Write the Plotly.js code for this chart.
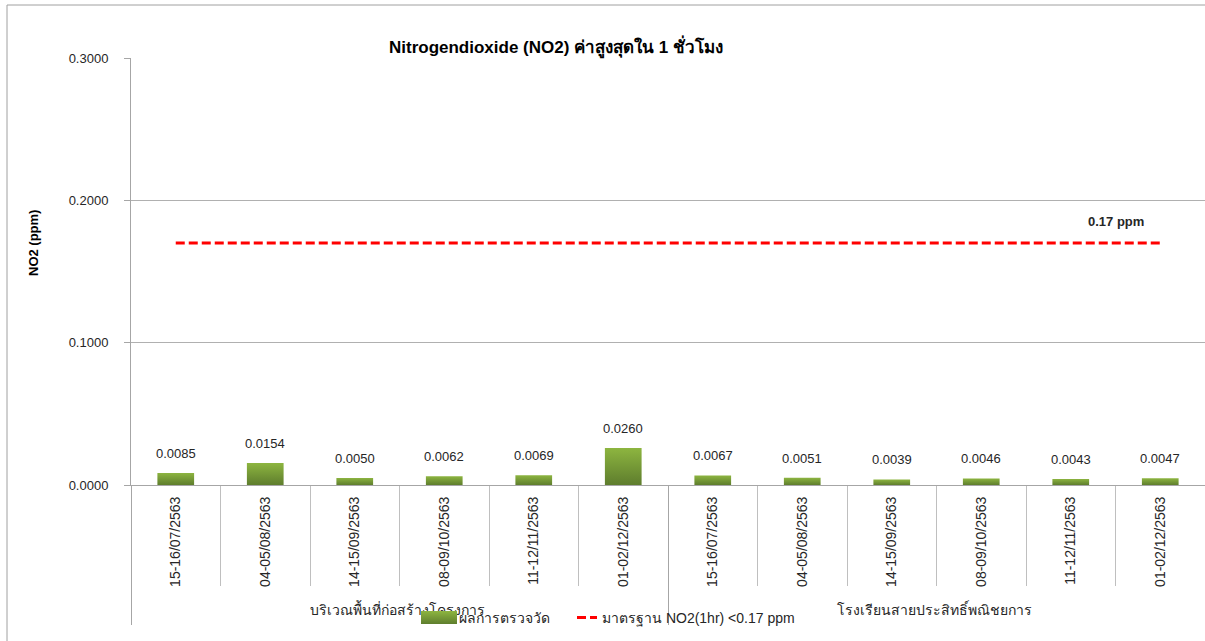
<!DOCTYPE html>
<html>
<head>
<meta charset="utf-8">
<script src="https://cdn.plot.ly/plotly-3.0.1.min.js"></script>
<style>
html,body{margin:0;padding:0;background:#fff;}
#chart{width:1205px;height:641px;}
</style>
</head>
<body>
<div id="chart"></div>
<script>
const groupNames = ['บริเวณพื้นที่ก่อสร้างโครงการ', 'บริเวณพื้นที่ก่อสร้างโครงการ', 'บริเวณพื้นที่ก่อสร้างโครงการ', 'บริเวณพื้นที่ก่อสร้างโครงการ', 'บริเวณพื้นที่ก่อสร้างโครงการ', 'บริเวณพื้นที่ก่อสร้างโครงการ',
  'โรงเรียนสายประสิทธิ์พณิชยการ', 'โรงเรียนสายประสิทธิ์พณิชยการ', 'โรงเรียนสายประสิทธิ์พณิชยการ', 'โรงเรียนสายประสิทธิ์พณิชยการ', 'โรงเรียนสายประสิทธิ์พณิชยการ', 'โรงเรียนสายประสิทธิ์พณิชยการ'];
const dates = ['15-16/07/2563', '04-05/08/2563', '14-15/09/2563', '08-09/10/2563', '11-12/11/2563', '01-02/12/2563',
  '15-16/07/2563', '04-05/08/2563', '14-15/09/2563', '08-09/10/2563', '11-12/11/2563', '01-02/12/2563'];
const measured = [0.0085, 0.0154, 0.0050, 0.0062, 0.0069, 0.0260, 0.0067, 0.0051, 0.0039, 0.0046, 0.0043, 0.0047];
const standard = [0.17, 0.17, 0.17, 0.17, 0.17, 0.17, 0.17, 0.17, 0.17, 0.17, 0.17, 0.17];
const yTicks = [0, 0.1, 0.2, 0.3];
const barName = 'ผลการตรวจวัด';
const lineName = 'มาตรฐาน NO2(1hr) <0.17 ppm';
const titleText = '<b>Nitrogendioxide (NO2) ค่าสูงสุดใน 1 ชั่วโมง</b>';
const yTitle = '<b>NO2 (ppm)</b>';
const standardLabel = '<b>0.17 ppm</b>';

const FONT = 'Liberation Sans, Arial, sans-serif';
const W = 1205, H = 641, ML = 131, MR = 0, MT = 58, MB = 156;
const pw = W - ML - MR, ph = H - MT - MB;
const px2x = p => (p - ML) / pw;
const py2y = p => (H - MB - p) / ph;

const x = [groupNames, dates];

const traces = [
  {
    type: 'bar', name: barName, x: x, y: measured, legend: 'legend',
    marker: {color: '#779c37', line: {width: 0}},
    hoverinfo: 'y'
  },
  {
    type: 'scatter', mode: 'lines', name: lineName, x: x, y: standard, legend: 'legend2',
    line: {color: '#ff0000', width: 3, dash: '9px,4px'},
    hoverinfo: 'y'
  }
];

const annotations = measured.map((v, i) => ({
  x: i, y: v, xref: 'x', yref: 'y', text: v.toFixed(4),
  showarrow: false, yanchor: 'bottom', yshift: 10,
  font: {family: FONT, size: 13, color: '#262626'}
}));
annotations.push({
  xref: 'paper', yref: 'paper', x: px2x(1116), y: py2y(221),
  text: standardLabel, showarrow: false, xanchor: 'center', yanchor: 'middle',
  font: {family: FONT, size: 13, color: '#262626'}
});
annotations.push({
  xref: 'paper', yref: 'paper', x: px2x(33), y: py2y(243),
  text: yTitle, showarrow: false, textangle: -90, xanchor: 'center', yanchor: 'middle',
  font: {family: FONT, size: 13, color: '#000'}
});

const legendCommon = {orientation: 'h', xanchor: 'left', yanchor: 'top',
  bgcolor: 'rgba(0,0,0,0)', font: {family: FONT, size: 14, color: '#262626'}};

const layout = {
  width: W, height: H,
  margin: {l: ML, r: MR, t: MT, b: MB, pad: 0},
  paper_bgcolor: '#fff', plot_bgcolor: '#fff',
  font: {family: FONT, size: 13, color: '#262626'},
  title: {text: titleText, xref: 'container', yref: 'container', x: 556 / W, y: 1 - 47 / H,
    xanchor: 'center', yanchor: 'middle', font: {family: FONT, size: 17, color: '#000'}},
  bargap: 0.59,
  showlegend: true,
  legend: Object.assign({}, legendCommon, {x: px2x(419), y: py2y(602)}),
  legend2: Object.assign({}, legendCommon, {x: px2x(562), y: py2y(602)}),
  xaxis: {
    type: 'multicategory', tickangle: -90,
    showline: true, linecolor: '#a6a6a6', linewidth: 1,
    ticks: 'outside', tickson: 'boundaries', ticklen: 100, tickcolor: '#bfbfbf', tickwidth: 1,
    showdividers: true, dividercolor: '#a6a6a6', dividerwidth: 1,
    showgrid: false, zeroline: false, ticklabelstandoff: 5,
    tickfont: {family: FONT, size: 14, color: '#262626'}
  },
  yaxis: {
    range: [0, 0.3], tickvals: yTicks, tickformat: '.4f',
    showgrid: true, gridcolor: '#b0b0b0', gridwidth: 1,
    showline: true, linecolor: '#a6a6a6', linewidth: 1,
    ticks: 'outside', ticklen: 6, tickcolor: '#a6a6a6',
    zeroline: false, ticklabelstandoff: 13,
    tickfont: {family: FONT, size: 13, color: '#262626'}
  },
  annotations: annotations,
  shapes: [
    {type: 'rect', xref: 'paper', yref: 'paper', x0: px2x(7), x1: px2x(1300), y0: py2y(700), y1: py2y(5),
      line: {color: '#a0a0a0', width: 1}, fillcolor: 'rgba(0,0,0,0)', layer: 'below'}
  ]
};

Plotly.newPlot('chart', traces, layout, {displayModeBar: false, staticPlot: true}).then(gd => {
  const svg = gd.querySelector('svg.main-svg');
  const ns = 'http://www.w3.org/2000/svg';
  let defs = svg.querySelector('defs');
  if (!defs) { defs = document.createElementNS(ns, 'defs'); svg.insertBefore(defs, svg.firstChild); }
  const lg = document.createElementNS(ns, 'linearGradient');
  lg.setAttribute('id', 'barGrad');
  lg.setAttribute('x1', '0'); lg.setAttribute('y1', '0'); lg.setAttribute('x2', '0'); lg.setAttribute('y2', '1');
  [['0', '#8db540'], ['1', '#5e7d2d']].forEach(([o, c]) => {
    const s = document.createElementNS(ns, 'stop');
    s.setAttribute('offset', o); s.setAttribute('stop-color', c);
    lg.appendChild(s);
  });
  defs.appendChild(lg);
  gd.querySelectorAll('.barlayer .point path').forEach(p => { p.style.fill = 'url(#barGrad)'; });
  // legend bar symbol shaped like the reference (wide rectangle)
  gd.querySelectorAll('g.legendpoints path').forEach(p => {
    const f = (p.style.fill || '').replace(/\s/g, '');
    if (f.indexOf('rgb(119,156,55') === 0) {
      p.setAttribute('d', 'M18,6.5H-18V-6.5H18Z');
      p.style.fill = 'url(#barGrad)';
    }
  });
  gd.querySelectorAll('.legendlines path').forEach(p => { p.setAttribute('d', 'M15,0h20'); });
  // nudge group (outer) labels and lengthen group dividers like the reference
  gd.querySelectorAll('g.xtick2').forEach(g => {
    const t = g.getAttribute('transform') || '';
    g.setAttribute('transform', t + ' translate(0,6)');
  });
  gd.querySelectorAll('path.xdivider').forEach(p => {
    const d = p.getAttribute('d') || '';
    const m = d.match(/^M\s*([\-\d.]+)\s*,\s*([\-\d.]+)\s*v\s*([\-\d.]+)/);
    if (m) {
      const y0 = parseFloat(m[2]);
      p.setAttribute('d', 'M' + m[1] + ',' + y0 + 'v' + (625 - y0));
    }
  });
});
</script>
</body>
</html>
